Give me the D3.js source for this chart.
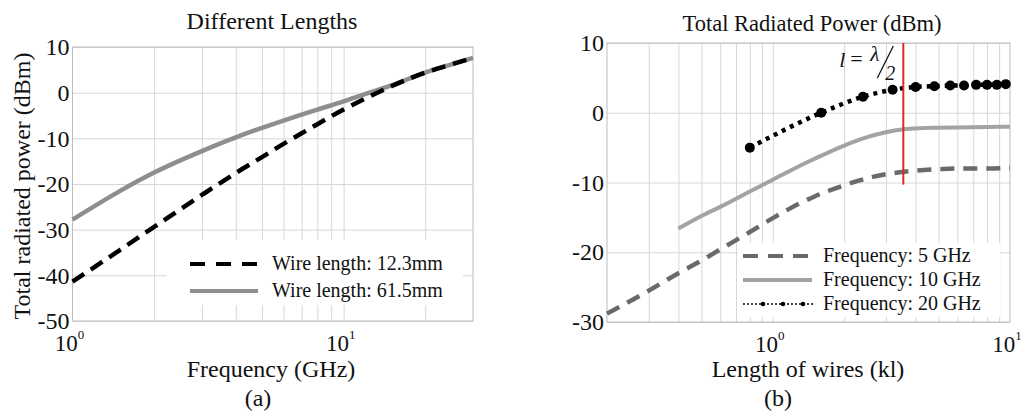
<!DOCTYPE html>
<html>
<head>
<meta charset="utf-8">
<script src="https://cdn.jsdelivr.net/npm/d3@7/dist/d3.min.js"></script>
<style>
  body { margin: 0; background: #fff; }
  svg { display: block; font-family: "Liberation Serif", "Times New Roman", serif; }
</style>
</head>
<body>
<svg id="chart" width="1028" height="416"></svg>
<script>
// (a) total radiated power vs frequency
var freqGHz = [1, 1.5, 2, 3, 4, 5, 6, 7, 8, 10, 12, 15, 20, 25, 30];
var wire12mm = [-41.4, -34.4, -29.4, -22.4, -17.6, -14.1, -11.2, -8.9, -6.9, -3.7, -1.3, 1.4, 4.4, 6.2, 7.6];
var wire61mm = [-27.8, -21.5, -17.5, -12.8, -9.8, -7.7, -6.1, -4.8, -3.7, -1.9, -0.3, 1.6, 4.4, 6.2, 7.6];
var legendA = ["Wire length: 12.3mm", "Wire length: 61.5mm"];

// (b) total radiated power vs kl
var kl5 = [0.2, 0.3, 0.4, 0.5, 0.6, 0.8, 1.0, 1.2, 1.5, 2.0, 2.5, 3.0, 3.5, 4, 5, 6, 8, 10];
var pow5 = [-28.8, -25.5, -23.0, -21.2, -19.6, -17.1, -15.1, -13.6, -12.0, -10.4, -9.4, -8.8, -8.5, -8.3, -8.1, -8.0, -8.0, -7.9];
var kl10 = [0.4, 0.5, 0.6, 0.8, 1.0, 1.2, 1.5, 2.0, 2.5, 3.0, 3.5, 4, 5, 6, 8, 10];
var pow10 = [-16.6, -14.8, -13.5, -11.3, -9.6, -8.2, -6.6, -4.7, -3.5, -2.8, -2.4, -2.25, -2.15, -2.1, -2.05, -2.0];
var kl20 = [0.8, 1.6, 2.4, 3.2, 4.0, 4.8, 5.6, 6.4, 7.2, 8.0, 8.8, 9.6];
var pow20 = [-5.0, 0.0, 2.3, 3.3, 3.7, 3.8, 3.9, 3.9, 4.0, 4.0, 4.0, 4.1];
var legendB = ["Frequency: 5 GHz", "Frequency: 10 GHz", "Frequency: 20 GHz"];
var halfWaveKl = 3.55;
var halfWaveRange = [-10.3, 10];

// ticks
var yTicksA = [10, 0, -10, -20, -30, -40, -50];
var xGridA = [2, 3, 4, 5, 6, 7, 8, 9, 10, 20];
var xMajorA = [1, 10];
var yTicksB = [10, 0, -10, -20, -30];
var xGridB = [0.3, 0.4, 0.5, 0.6, 0.7, 0.8, 0.9, 1, 2, 3, 4, 5, 6, 7, 8, 9];
var xMajorB = [1, 10];

var svg = d3.select("#chart");
var serif = "Liberation Serif, Times New Roman, serif";
var gridColor = "#d6d6d6";

var xA = d3.scaleLog().domain([1, 30]).range([72.5, 473]);
var yA = d3.scaleLinear().domain([-50, 10]).range([321, 47]);
var xB = d3.scaleLog().domain([0.2, 10]).range([607, 1010]);
var yB = d3.scaleLinear().domain([-30, 10]).range([322, 43]);

function drawFrame(x, y, yTicks, xGrid, xMajor) {
    var x0 = x.range()[0], x1 = x.range()[1];
    var y0 = y.range()[0], y1 = y.range()[1];

    var gy = svg.append("g").attr("transform", "translate(" + x0 + ",0)")
        .call(d3.axisLeft(y).tickValues(yTicks).tickSize(-(x1 - x0)).tickPadding(3)
            .tickFormat(function(d) { return String(d); }));
    gy.attr("font-family", serif).attr("font-size", 24);
    gy.select(".domain").remove();
    gy.selectAll("line").attr("stroke", gridColor);
    gy.selectAll("text").attr("fill", "#111");

    var gx = svg.append("g").attr("transform", "translate(0," + y0 + ")")
        .call(d3.axisBottom(x).tickValues(xGrid).tickSize(-(y0 - y1)).tickFormat(""));
    gx.select(".domain").remove();
    gx.selectAll("line").attr("stroke", gridColor);

    svg.append("rect")
        .attr("x", x0).attr("y", y1).attr("width", x1 - x0).attr("height", y0 - y1)
        .attr("fill", "none").attr("stroke", "#bdbdbd").attr("stroke-width", 1);

    // 10^n labels
    xMajor.forEach(function(v) {
        var t = svg.append("text")
            .attr("x", x(v) - 3).attr("y", y0 + 30)
            .attr("text-anchor", "middle").attr("font-size", 23).attr("fill", "#111");
        t.append("tspan").text("10");
        t.append("tspan").attr("dy", -12).attr("font-size", 13).text(Math.round(Math.log10(v)));
    });
}

function legendBox(x, y, w, h) {
    svg.append("rect").attr("x", x).attr("y", y).attr("width", w).attr("height", h).attr("fill", "#fff");
}

// ---------- (a) ----------
drawFrame(xA, yA, yTicksA, xGridA, xMajorA);

var lineA = function(vals) {
    return d3.line().x(function(d, i) { return xA(freqGHz[i]); }).y(function(d) { return yA(d); })
        .curve(d3.curveMonotoneX)(vals);
};

legendBox(167, 240, 296, 65);

svg.append("path").attr("d", lineA(wire61mm))
    .attr("fill", "none").attr("stroke", "#8e8e8e").attr("stroke-width", 4.5);
svg.append("path").attr("d", lineA(wire12mm))
    .attr("fill", "none").attr("stroke", "#000").attr("stroke-width", 4.5)
    .attr("stroke-dasharray", "14,8");

var legA = svg.append("g");
legA.append("line").attr("x1", 190).attr("x2", 258).attr("y1", 264).attr("y2", 264)
    .attr("stroke", "#000").attr("stroke-width", 4).attr("stroke-dasharray", "15,11");
legA.append("line").attr("x1", 190).attr("x2", 258).attr("y1", 291).attr("y2", 291)
    .attr("stroke", "#8e8e8e").attr("stroke-width", 4);
legendA.forEach(function(s, i) {
    legA.append("text").attr("x", 272).attr("y", 270 + i * 27).attr("font-size", 20).attr("fill", "#111").text(s);
});

svg.append("text").attr("x", 272).attr("y", 29).attr("text-anchor", "middle")
    .attr("font-size", 24).attr("fill", "#111").text("Different Lengths");
svg.append("text").attr("x", 271).attr("y", 377).attr("text-anchor", "middle")
    .attr("font-size", 24).attr("fill", "#111").text("Frequency (GHz)");
svg.append("text").attr("transform", "translate(30,186) rotate(-90)").attr("text-anchor", "middle")
    .attr("font-size", 24).attr("fill", "#111").text("Total radiated power (dBm)");
svg.append("text").attr("x", 258).attr("y", 406).attr("text-anchor", "middle")
    .attr("font-size", 24).attr("fill", "#111").text("(a)");

// ---------- (b) ----------
drawFrame(xB, yB, yTicksB, xGridB, xMajorB);

legendBox(738, 243, 262, 74);

function lineB(kl, vals) {
    return d3.line().x(function(d, i) { return xB(kl[i]); }).y(function(d) { return yB(d); })
        .curve(d3.curveMonotoneX)(vals);
}

svg.append("path").attr("d", lineB(kl5, pow5))
    .attr("fill", "none").attr("stroke", "#6a6a6a").attr("stroke-width", 4.5)
    .attr("stroke-dasharray", "14,9");
svg.append("path").attr("d", lineB(kl10, pow10))
    .attr("fill", "none").attr("stroke", "#a3a3a3").attr("stroke-width", 4);
svg.append("path").attr("d", lineB(kl20, pow20))
    .attr("fill", "none").attr("stroke", "#000").attr("stroke-width", 4.5)
    .attr("stroke-dasharray", "4,5");
svg.append("g").selectAll("circle").data(pow20).enter().append("circle")
    .attr("cx", function(d, i) { return xB(kl20[i]); })
    .attr("cy", function(d) { return yB(d); })
    .attr("r", 5).attr("fill", "#000");

// half wavelength marker
svg.append("line")
    .attr("x1", xB(halfWaveKl)).attr("x2", xB(halfWaveKl))
    .attr("y1", yB(halfWaveRange[1])).attr("y2", yB(halfWaveRange[0]))
    .attr("stroke", "#e0262b").attr("stroke-width", 2);
var hx = xB(halfWaveKl);
var ann = svg.append("g").attr("font-style", "italic").attr("fill", "#111");
ann.append("text").attr("x", hx - 64).attr("y", 67).attr("font-size", 22).text("l");
ann.append("text").attr("x", hx - 53).attr("y", 66).attr("font-size", 22).attr("font-style", "normal").text("=");
ann.append("text").attr("x", hx - 33).attr("y", 61).attr("font-size", 21).text("λ");
ann.append("line").attr("x1", hx - 26).attr("y1", 78).attr("x2", hx - 10).attr("y2", 46)
    .attr("stroke", "#111").attr("stroke-width", 1.3);
ann.append("text").attr("x", hx - 18).attr("y", 80).attr("font-size", 20).text("2");

var legB = svg.append("g");
legB.append("line").attr("x1", 743).attr("x2", 809).attr("y1", 256).attr("y2", 256)
    .attr("stroke", "#6a6a6a").attr("stroke-width", 4).attr("stroke-dasharray", "15,10");
legB.append("line").attr("x1", 743).attr("x2", 812).attr("y1", 280).attr("y2", 280)
    .attr("stroke", "#a3a3a3").attr("stroke-width", 4);
legB.append("line").attr("x1", 743).attr("x2", 815).attr("y1", 304).attr("y2", 304)
    .attr("stroke", "#000").attr("stroke-width", 1.6).attr("stroke-dasharray", "2,2");
[763, 783, 803].forEach(function(cx) {
    legB.append("circle").attr("cx", cx).attr("cy", 304).attr("r", 2.3).attr("fill", "#000");
});
legendB.forEach(function(s, i) {
    legB.append("text").attr("x", 823).attr("y", 262 + i * 24).attr("font-size", 20).attr("fill", "#111").text(s);
});

svg.append("text").attr("x", 812).attr("y", 31).attr("text-anchor", "middle")
    .attr("font-size", 22.5).attr("fill", "#111").text("Total Radiated Power (dBm)");
svg.append("text").attr("x", 808).attr("y", 377).attr("text-anchor", "middle")
    .attr("font-size", 24).attr("fill", "#111").text("Length of wires (kl)");
svg.append("text").attr("x", 778).attr("y", 406).attr("text-anchor", "middle")
    .attr("font-size", 24).attr("fill", "#111").text("(b)");
</script>
</body>
</html>
